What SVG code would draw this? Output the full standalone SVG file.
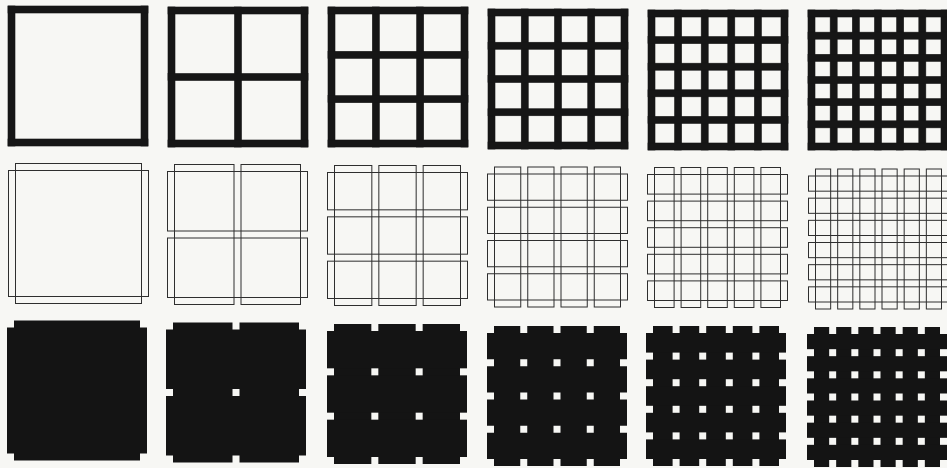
<svg xmlns="http://www.w3.org/2000/svg" xmlns:xlink="http://www.w3.org/1999/xlink" width="947" height="468" viewBox="0 0 947 468">
<style>
.bars{fill:#161616;stroke:#161616;stroke-width:0.6}
.outline{fill:none;stroke:#2e2e2e;stroke-width:1}
.solid{fill:#141414}
</style>
<defs>
<!-- vertical bars of the thick grids (row 1) -->
<g id="b1"><rect x="0" y="0" width="7" height="140"/><rect x="133" y="0" width="7" height="140"/></g>
<g id="b2"><rect x="0" y="0" width="7" height="140"/><rect x="66.5" y="0" width="7" height="140"/><rect x="133" y="0" width="7" height="140"/></g>
<g id="b3"><rect x="0" y="0" width="7" height="140"/><rect x="44.333" y="0" width="7" height="140"/><rect x="88.667" y="0" width="7" height="140"/><rect x="133" y="0" width="7" height="140"/></g>
<g id="b4"><rect x="0" y="0" width="7" height="140"/><rect x="33.25" y="0" width="7" height="140"/><rect x="66.5" y="0" width="7" height="140"/><rect x="99.75" y="0" width="7" height="140"/><rect x="133" y="0" width="7" height="140"/></g>
<g id="b5"><rect x="0" y="0" width="7" height="140"/><rect x="26.6" y="0" width="7" height="140"/><rect x="53.2" y="0" width="7" height="140"/><rect x="79.8" y="0" width="7" height="140"/><rect x="106.4" y="0" width="7" height="140"/><rect x="133" y="0" width="7" height="140"/></g>
<g id="b6"><rect x="0" y="0" width="7" height="140"/><rect x="22.167" y="0" width="7" height="140"/><rect x="44.333" y="0" width="7" height="140"/><rect x="66.5" y="0" width="7" height="140"/><rect x="88.667" y="0" width="7" height="140"/><rect x="110.833" y="0" width="7" height="140"/><rect x="133" y="0" width="7" height="140"/></g>
<!-- vertical cell strips (rows 2 and 3) -->
<g id="c1"><rect x="7" y="0" width="126" height="140"/></g>
<g id="c2"><rect x="7" y="0" width="59.5" height="140"/><rect x="73.5" y="0" width="59.5" height="140"/></g>
<g id="c3"><rect x="7" y="0" width="37.333" height="140"/><rect x="51.333" y="0" width="37.333" height="140"/><rect x="95.667" y="0" width="37.333" height="140"/></g>
<g id="c4"><rect x="7" y="0" width="26.25" height="140"/><rect x="40.25" y="0" width="26.25" height="140"/><rect x="73.5" y="0" width="26.25" height="140"/><rect x="106.75" y="0" width="26.25" height="140"/></g>
<g id="c5"><rect x="7" y="0" width="19.6" height="140"/><rect x="33.6" y="0" width="19.6" height="140"/><rect x="60.2" y="0" width="19.6" height="140"/><rect x="86.8" y="0" width="19.6" height="140"/><rect x="113.4" y="0" width="19.6" height="140"/></g>
<g id="c6"><rect x="7" y="0" width="15.167" height="140"/><rect x="29.167" y="0" width="15.167" height="140"/><rect x="51.333" y="0" width="15.167" height="140"/><rect x="73.5" y="0" width="15.167" height="140"/><rect x="95.667" y="0" width="15.167" height="140"/><rect x="117.833" y="0" width="15.167" height="140"/></g>
</defs>
<rect x="0" y="0" width="947" height="468" fill="#f7f7f4"/>

<!-- Row 1: thick bar grids -->
<g id="grid-1-1" class="bars" transform="translate(8 6)"><use xlink:href="#b1"/><use xlink:href="#b1" transform="rotate(90 70 70)"/></g>
<g id="grid-1-2" class="bars" transform="translate(168 7)"><use xlink:href="#b2"/><use xlink:href="#b2" transform="rotate(90 70 70)"/></g>
<g id="grid-1-3" class="bars" transform="translate(328 7)"><use xlink:href="#b3"/><use xlink:href="#b3" transform="rotate(90 70 70)"/></g>
<g id="grid-1-4" class="bars" transform="translate(488 9)"><use xlink:href="#b4"/><use xlink:href="#b4" transform="rotate(90 70 70)"/></g>
<g id="grid-1-5" class="bars" transform="translate(648 10)"><use xlink:href="#b5"/><use xlink:href="#b5" transform="rotate(90 70 70)"/></g>
<g id="grid-1-6" class="bars" transform="translate(808 10)"><use xlink:href="#b6"/><use xlink:href="#b6" transform="rotate(90 70 70)"/></g>

<!-- Row 2: outlined overlapping strips -->
<g id="grid-2-1" class="outline" transform="translate(8.5 163.5)"><use xlink:href="#c1"/><use xlink:href="#c1" transform="rotate(90 70 70)"/></g>
<g id="grid-2-2" class="outline" transform="translate(167.5 164.5)"><use xlink:href="#c2"/><use xlink:href="#c2" transform="rotate(90 70 70)"/></g>
<g id="grid-2-3" class="outline" transform="translate(327.5 165.5)"><use xlink:href="#c3"/><use xlink:href="#c3" transform="rotate(90 70 70)"/></g>
<g id="grid-2-4" class="outline" transform="translate(487.5 167)"><use xlink:href="#c4"/><use xlink:href="#c4" transform="rotate(90 70 70)"/></g>
<g id="grid-2-5" class="outline" transform="translate(647.5 167.5)"><use xlink:href="#c5"/><use xlink:href="#c5" transform="rotate(90 70 70)"/></g>
<g id="grid-2-6" class="outline" transform="translate(808.5 169)"><use xlink:href="#c6"/><use xlink:href="#c6" transform="rotate(90 70 70)"/></g>

<!-- Row 3: filled strips -->
<g id="grid-3-1" class="solid" transform="translate(7 320.5)"><use xlink:href="#c1"/><use xlink:href="#c1" transform="rotate(90 70 70)"/></g>
<g id="grid-3-2" class="solid" transform="translate(166 322.5)"><use xlink:href="#c2"/><use xlink:href="#c2" transform="rotate(90 70 70)"/></g>
<g id="grid-3-3" class="solid" transform="translate(327 324)"><use xlink:href="#c3"/><use xlink:href="#c3" transform="rotate(90 70 70)"/></g>
<g id="grid-3-4" class="solid" transform="translate(487 326)"><use xlink:href="#c4"/><use xlink:href="#c4" transform="rotate(90 70 70)"/></g>
<g id="grid-3-5" class="solid" transform="translate(646 326)"><use xlink:href="#c5"/><use xlink:href="#c5" transform="rotate(90 70 70)"/></g>
<g id="grid-3-6" class="solid" transform="translate(807 327)"><use xlink:href="#c6"/><use xlink:href="#c6" transform="rotate(90 70 70)"/></g>
</svg>
